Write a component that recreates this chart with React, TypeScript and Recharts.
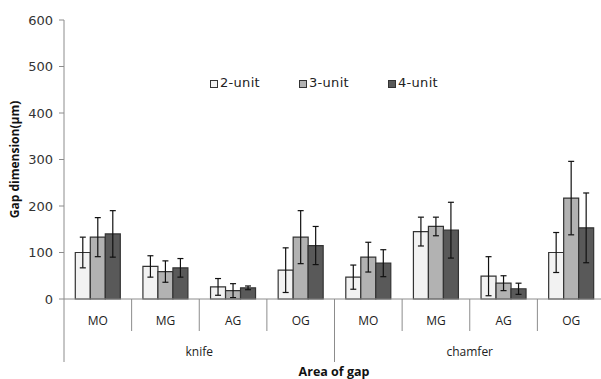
import { Bar, BarChart, ErrorBar, Legend, XAxis, YAxis } from "recharts";

const areas = ["MO", "MG", "AG", "OG", "MO", "MG", "AG", "OG"];
const groups = ["knife", "knife", "knife", "knife", "chamfer", "chamfer", "chamfer", "chamfer"];
const unit2 = [100, 70, 26, 62, 47, 145, 49, 100];
const unit2Err = [33, 23, 18, 48, 26, 31, 42, 43];
const unit3 = [133, 59, 18, 133, 90, 156, 34, 217];
const unit3Err = [42, 23, 15, 57, 32, 20, 16, 79];
const unit4 = [140, 67, 24, 115, 77, 148, 22, 153];
const unit4Err = [50, 20, 4, 41, 29, 60, 12, 75];
const yTicks = [0, 100, 200, 300, 400, 500, 600];

const data = areas.map((area, i) => ({
  area,
  group: groups[i],
  u2: unit2[i],
  e2: unit2Err[i],
  u3: unit3[i],
  e3: unit3Err[i],
  u4: unit4[i],
  e4: unit4Err[i],
}));

const W = 606;
const H = 379;
const LEFT = 64;
const RIGHT = 1;
const BAND = (W - LEFT - RIGHT) / areas.length;
const AXIS = "#8c8c8c";
const LABEL_FONT = "'Open Sans', 'Liberation Sans', sans-serif";
const NUM_FONT = "'DejaVu Sans', sans-serif";

const series = [
  { key: "u2", err: "e2", name: "2-unit", fill: "#f2f2f2" },
  { key: "u3", err: "e3", name: "3-unit", fill: "#b2b2b2" },
  { key: "u4", err: "e4", name: "4-unit", fill: "#595959" },
];

function AreaTick(props: any) {
  const { x, y, payload, index } = props;
  return (
    <g>
      {index > 0 && (
        <line x1={x - BAND / 2} x2={x - BAND / 2} y1={y} y2={y + 32} stroke={AXIS} />
      )}
      <text
        x={x}
        y={y + 26}
        textAnchor="middle"
        fontSize={12}
        fontFamily={LABEL_FONT}
        fill="#222"
      >
        {payload.value}
      </text>
    </g>
  );
}

function GroupTick(props: any) {
  const { x, y, payload } = props;
  const half = (BAND * 4) / 2;
  return (
    <g>
      <line x1={x - half} x2={x - half} y1={y - 32} y2={y + 31} stroke={AXIS} />
      <text
        x={x}
        y={y + 25}
        textAnchor="middle"
        fontSize={12}
        fontFamily={LABEL_FONT}
        fill="#222"
      >
        {payload.value}
      </text>
    </g>
  );
}

function YLabel(props: any) {
  const { viewBox } = props;
  const cy = viewBox.y + viewBox.height / 2;
  return (
    <text
      x={14}
      y={cy}
      transform={`rotate(-90, 14, ${cy})`}
      textAnchor="middle"
      dominantBaseline="central"
      fontSize={12}
      fontWeight="bold"
      fontFamily={LABEL_FONT}
      fill="#111"
    >
      Gap dimension(μm)
    </text>
  );
}

function LegendBox() {
  return (
    <div style={{ display: "flex", fontFamily: NUM_FONT, fontSize: 13, color: "#222" }}>
      {series.map((s) => (
        <div key={s.key} style={{ display: "flex", alignItems: "center", width: 89 }}>
          <span
            style={{
              display: "inline-block",
              width: 6,
              height: 6,
              background: s.fill,
              border: "1px solid #333",
              marginRight: 2,
              marginTop: 2,
            }}
          />
          <span style={{ letterSpacing: 0.3 }}>{s.name}</span>
        </div>
      ))}
    </div>
  );
}

export default function App() {
  return (
    <div
      style={{ position: "absolute", left: 0, top: 0, width: 601, height: H, overflow: "hidden" }}
    >
      <BarChart
        width={W}
        height={H}
        data={data}
        margin={{ top: 20, right: RIGHT, left: 0, bottom: 0 }}
        barCategoryGap="16.7%"
        barGap={0}
      >
        <YAxis
          width={LEFT}
          domain={[0, 600]}
          ticks={yTicks}
          interval={0}
          axisLine={{ stroke: AXIS }}
          tickLine={{ stroke: AXIS }}
          tickSize={5}
          tickMargin={6}
          tick={{ fontSize: 13, fontFamily: NUM_FONT, fill: "#333" }}
          label={<YLabel />}
        />
        <XAxis
          xAxisId="area"
          dataKey="area"
          height={32}
          interval={0}
          axisLine={{ stroke: AXIS }}
          tickLine={false}
          tickSize={0}
          tickMargin={0}
          tick={<AreaTick />}
        />
        <XAxis
          xAxisId="group"
          dataKey="group"
          allowDuplicatedCategory={false}
          height={48}
          interval={0}
          axisLine={false}
          tickLine={false}
          tickSize={0}
          tickMargin={0}
          tick={<GroupTick />}
        />
        <Legend
          layout="horizontal"
          verticalAlign="middle"
          align="center"
          content={() => <LegendBox />}
          wrapperStyle={{ position: "absolute", top: 75, left: 210, width: 300, height: 18 }}
        />
        {series.map((s) => (
          <Bar
            key={s.key}
            xAxisId="area"
            dataKey={s.key}
            name={s.name}
            fill={s.fill}
            stroke="#333"
            strokeWidth={1.2}
            isAnimationActive={false}
          >
            <ErrorBar dataKey={s.err} width={3} stroke="#111" strokeWidth={1.2} />
          </Bar>
        ))}
      </BarChart>
      <div
        style={{
          position: "absolute",
          left: 234,
          width: 200,
          top: 364,
          textAlign: "center",
          fontFamily: LABEL_FONT,
          fontSize: 12.5,
          fontWeight: "bold",
          lineHeight: "16px",
          color: "#111",
        }}
      >
        Area of gap
      </div>
    </div>
  );
}
